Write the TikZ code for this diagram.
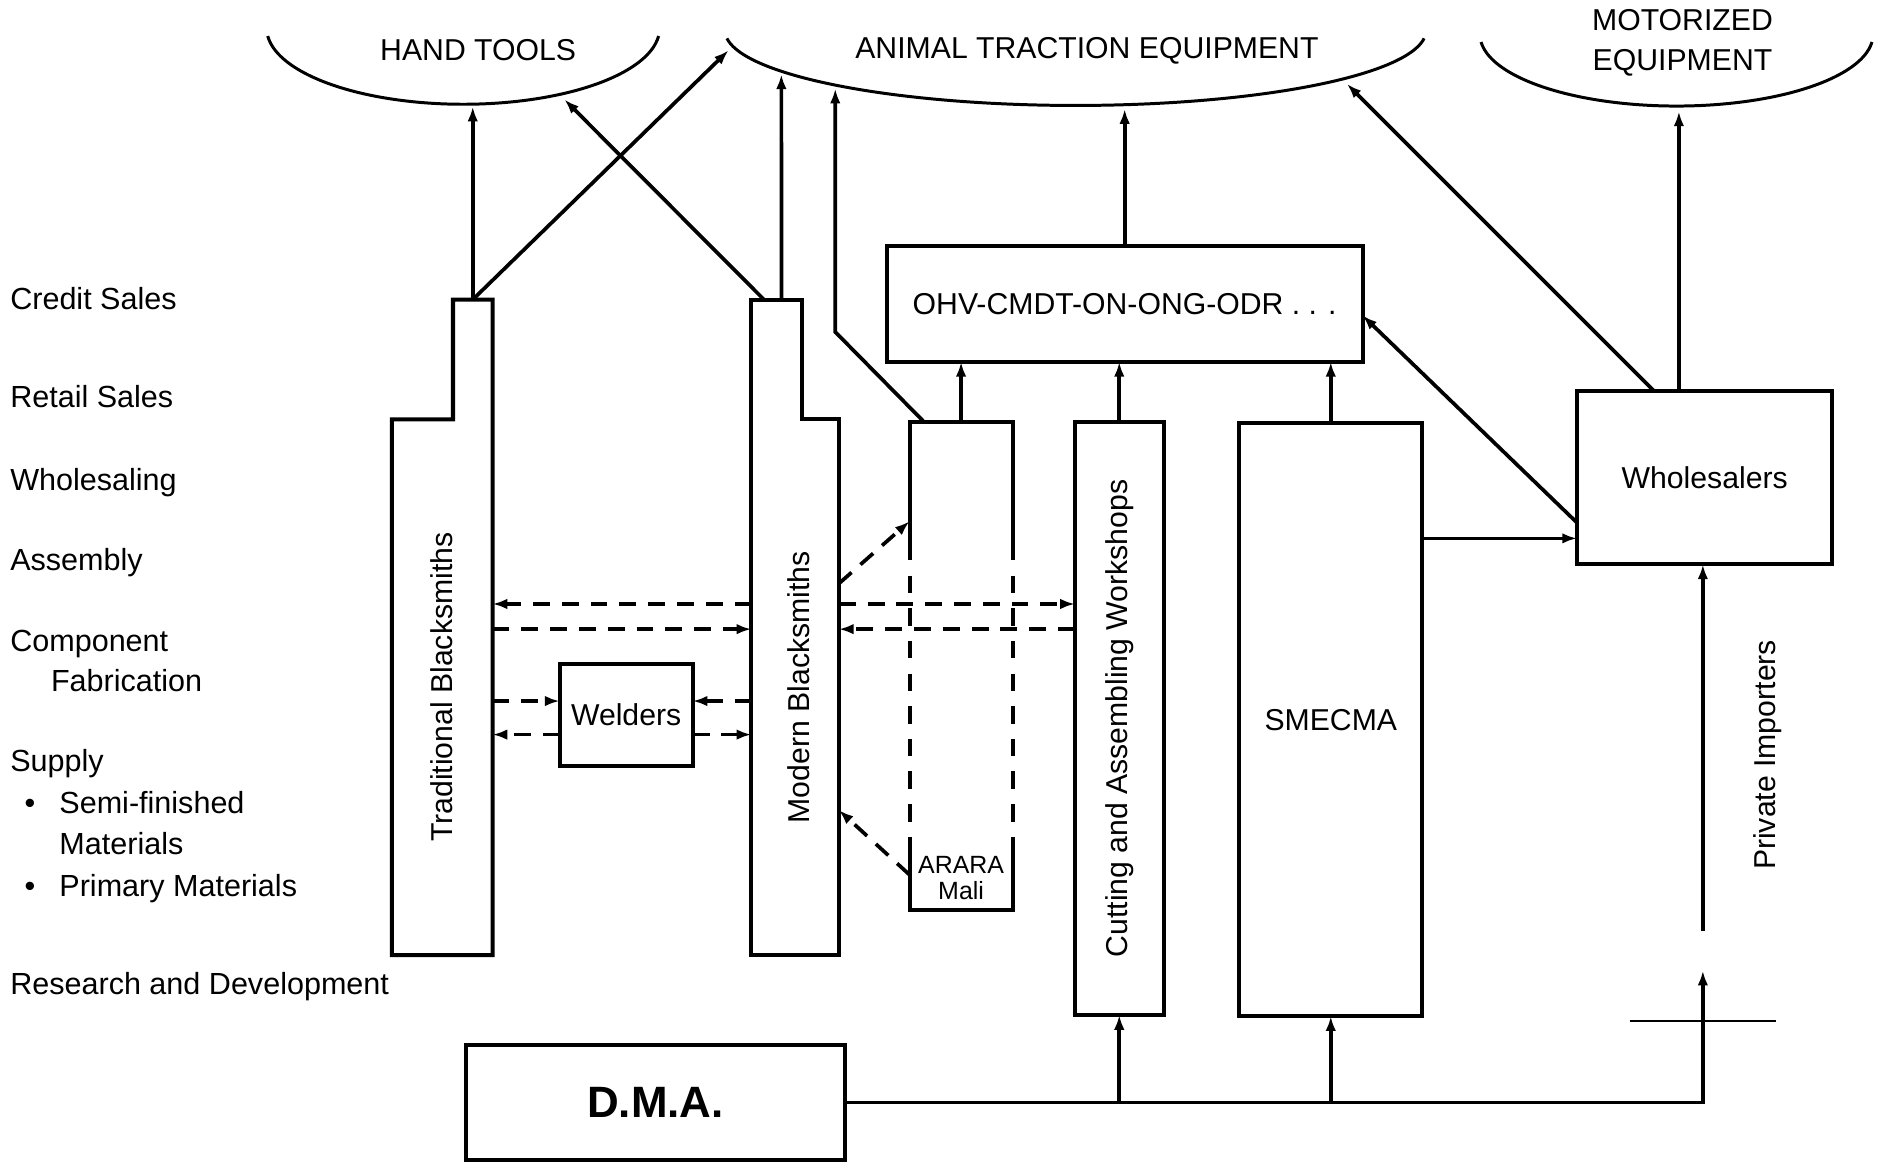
\documentclass[tikz,border=0pt]{standalone}
\usepackage{fontspec}
\setmainfont{Liberation Sans}
\usetikzlibrary{arrows.meta,fit,calc,positioning}
\tikzset{
 txt/.style={font=\fontsize{8.6}{11.3}\selectfont,inner sep=0pt},
 lbl/.style={txt,font=\fontsize{8.7}{10}\selectfont,anchor=base west},
 box/.style={draw,line width=1.15pt,inner sep=0pt,outer sep=0pt},
 area/.style={inner sep=0pt,outer sep=0pt},
 edge/.style={line width=1.15pt},
 arr/.style={line width=1.05pt,-{Latex[length=4.2pt,width=3pt]}},
 darr/.style={arr,dash pattern=on 4.8pt off 3.4pt},
 bowl/.style={line width=0.85pt}
}
\begin{document}
\begin{tikzpicture}[x=0.012cm,y=-0.012cm]
 \useasboundingbox (0,0) rectangle (1568,970);
 % market outlets
 \draw[bowl] plot[domain=6:174,samples=60,smooth] ({386.5+164*cos(\x)},{23.4+63.6*sin(\x)});
 \draw[bowl] plot[domain=6:174,samples=80,smooth] ({897.5+292.5*cos(\x)},{25.5+62.5*sin(\x)});
 \draw[bowl] plot[domain=6:174,samples=60,smooth] ({1399+164*cos(\x)},{28.8+59.7*sin(\x)});
 \node[txt] (hand) at (399,42) {HAND TOOLS};
 \node[txt] (animal) at (907,42) {ANIMAL TRACTION EQUIPMENT};
 \node[txt,align=center] (motor) at (1404,36) {MOTORIZED\\EQUIPMENT};
 \coordinate (hand-a) at (395,89); \coordinate (hand-b) at (471,83);
 \coordinate (anim-a) at (608,42); \coordinate (anim-b) at (652,62);
 \coordinate (anim-c) at (697,74); \coordinate (anim-d) at (938,91);
 \coordinate (anim-e) at (1124,70); \coordinate (motor-a) at (1401,93);
 % stages
 \node[lbl] (credit) at (8,258) {Credit Sales};
 \node[lbl] (retail) at (8,340) {Retail Sales};
 \node[lbl] (wholesaling) at (8,409) {Wholesaling};
 \node[lbl] (assembly) at (8,476) {Assembly};
 \node[lbl] (component) at (8,544) {Component};
 \node[lbl] (fabrication) at (42,577) {Fabrication};
 \node[lbl] (supply) at (8,644) {Supply};
 \node[lbl] (bul1) at (20,679) {\textbullet}; \node[lbl] (semi) at (49,679) {Semi-finished};
 \node[lbl] (materials) at (49,713) {Materials};
 \node[lbl] (bul2) at (20,748) {\textbullet}; \node[lbl] (primary) at (49,748) {Primary Materials};
 \node[lbl] (research) at (8,830) {Research and Development};
 % producers
 \node[area,fit={(327,350)(411,797)}] (trad) {};
 \node[area,fit={(378,250)(411,350)}] (tradtop) {};
 \draw[edge] (trad.south west) |- (tradtop.south west) |- (tradtop.north east) -- (trad.south east) -- cycle;
 \node[txt,rotate=90] (tradtxt) at (trad.center) {Traditional Blacksmiths};
 \node[area,fit={(627,350)(700,797)}] (mod) {};
 \node[area,fit={(627,250)(669,350)}] (modtop) {};
 \draw[edge] (mod.south east) |- (modtop.south east) |- (modtop.north west) -- (mod.south west) -- cycle;
 \node[txt,rotate=90] (modtxt) at ([xshift=0.04cm]mod.center) {Modern Blacksmiths};
 \node[box,fit={(467,554)(578,639)}] (weld) {};
 \node[txt] (weldtxt) at (weld.center) {Welders};
 \node[area,fit={(759,352)(845,759)}] (arara) {};
 \draw[edge] (759,453) |- (845,352) -- (845,453);
 \draw[edge] (759,701) |- (845,759) -- (845,701);
 \draw[edge,dash pattern=on 5pt off 4.3pt] (759,453) -- (759,701) (845,453) -- (845,701);
 \node[txt,font=\fontsize{7.1}{7.4}\selectfont,align=center] (araratxt) at (802,733) {ARARA\\Mali};
 \node[box,fit={(740,205)(1137,302)}] (ohv) {};
 \node[txt] (ohvtxt) at (ohv.center) {OHV-CMDT-ON-ONG-ODR . . .};
 \node[box,fit={(897,352)(971,847)}] (cut) {};
 \node[txt,rotate=90] (cuttxt) at (cut.center) {Cutting and Assembling Workshops};
 \node[box,fit={(1034,353)(1187,848)}] (smecma) {};
 \node[txt] (smecmatxt) at (smecma.center) {SMECMA};
 \node[box,fit={(1316,326)(1529,471)}] (whole) {};
 \node[txt] (wholetxt) at (whole.center) {Wholesalers};
 \node[txt,rotate=90] (pitxt) at (1475,630) {Private Importers};
 \node[box,fit={(389,872)(705,968)}] (dma) {};
 \node[txt,font=\bfseries\fontsize{12.5}{14}\selectfont] (dmatxt) at (dma.center) {D.M.A.};
 % flows to the outlets
 \coordinate (bend) at (697,277);
 \draw[arr] (tradtop.north) -- (tradtop.north |- hand-a);
 \draw[arr] (tradtop.north) -- (anim-a);
 \draw[arr] ($(modtop.north west)!0.25!(modtop.north east)$) -- (hand-b);
 \draw[arr] ($(modtop.north west)!0.6!(modtop.north east)$) -- (anim-b);
 \draw[arr] ([xshift=0.144cm]arara.north west) -- (bend) -- (bend |- anim-c);
 \draw[arr] (arara.north) -- (arara.north |- ohv.south);
 \draw[arr] (cut.north) -- (cut.north |- ohv.south);
 \draw[arr] (smecma.north) -- (smecma.north |- ohv.south);
 \draw[arr] (ohv.north) -- (ohv.north |- anim-d);
 \draw[arr] ($(whole.north west)!0.3!(whole.north east)$) -- (anim-e);
 \draw[arr] (whole.north -| motor-a) -- (motor-a);
 \draw[arr] ($(whole.north west)!0.76!(whole.south west)$) -- ($(ohv.north east)!0.6!(ohv.south east)$);
 \coordinate (w85) at ($(whole.north west)!0.85!(whole.south west)$);
 \draw[arr] (smecma.east |- w85) -- (w85);
 % supply from D.M.A. and importers
 \coordinate (pi-top) at (1421,777); \coordinate (pi-low) at (1421,810);
 \draw[arr] (pi-top) -- (pi-top |- whole.south);
 \draw[arr] (dma.east) -| (pi-low);
 \draw[arr] (cut.south |- dma.east) -- (cut.south);
 \draw[arr] (smecma.south |- dma.east) -- (smecma.south);
 \draw[line width=0.5pt] (1360,852) -- (1482,852);
 % exchanges between workshops
 \coordinate (r0) at (0,435); \coordinate (r1) at (0,487);
 \coordinate (r2) at (0,504); \coordinate (r3) at (0,525);
 \coordinate (r4) at (0,585); \coordinate (r5) at (0,613);
 \coordinate (r6) at (0,676); \coordinate (r7) at (0,730);
 \draw[darr] (mod.west |- r2) -- (trad.east |- r2);
 \draw[darr] (trad.east |- r3) -- (mod.west |- r3);
 \draw[darr] (trad.east |- r4) -- (weld.west |- r4);
 \draw[darr] (mod.west |- r4) -- (weld.east |- r4);
 \draw[darr] (weld.west |- r5) -- (trad.east |- r5);
 \draw[darr] (weld.east |- r5) -- (mod.west |- r5);
 \draw[darr] (mod.east |- r2) -- (cut.west |- r2);
 \draw[darr] (cut.west |- r3) -- (mod.east |- r3);
 \draw[darr] (mod.east |- r1) -- (arara.west |- r0);
 \draw[darr] (arara.west |- r7) -- (mod.east |- r6);
\end{tikzpicture}
\end{document}
